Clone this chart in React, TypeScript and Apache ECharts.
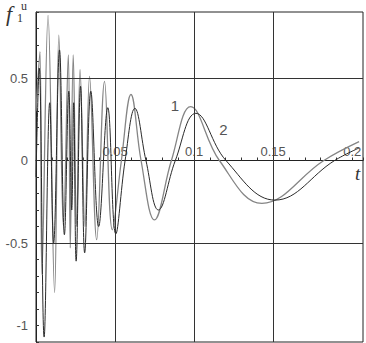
import React, { useEffect, useRef } from "react";
import * as echarts from "echarts";

// Curve 1 (leading curve, grey)
const curve1T = [0, 0.00248, 0.00372, 0.00762, 0.01176, 0.01443, 0.01734, 0.02043, 0.02167, 0.02353, 0.0257, 0.02786, 0.03096, 0.03387, 0.03839, 0.04334, 0.0483, 0.054, 0.06006, 0.06644, 0.07492, 0.08563, 0.09783, 0.11598, 0.14285, 0.18204, 0.20433];
const curve1V = [0.3, 0.66, -0.69, 0.88, -0.8, 0.76, -0.4, 0.64, -0.53, 0.64, -0.4, 0.55, -0.4, 0.51, -0.48, 0.48, -0.42, 0, 0.4, 0, -0.36, 0, 0.326, 0, -0.26, 0, 0.114];

// Curve 2 (lagging curve, black)
const curve2T = [0, 0.00204, 0.00514, 0.00867, 0.01115, 0.01486, 0.01796, 0.02074, 0.0226, 0.02384, 0.02539, 0.02817, 0.03077, 0.03467, 0.03963, 0.04539, 0.05046, 0.05635, 0.06254, 0.06954, 0.0774, 0.08811, 0.10111, 0.12012, 0.15108, 0.18885, 0.20433];
const curve2V = [-0.1, 0.56, -1.07, 0.35, -0.5, 0.67, -0.45, 0.42, -0.3, 0.35, -0.61, 0.45, -0.56, 0.42, -0.4, 0.32, -0.445, 0, 0.316, 0, -0.3, 0, 0.286, 0, -0.24, 0, 0.076];

const xGridLines = [0.05, 0.1, 0.15];
const yGridLines = [0.5, -0.5];
const curveLabels = [
  { name: "1", t: 0.0879, v: 0.336 },
  { name: "2", t: 0.1186, v: 0.185 },
];

const Y_MIN = -1.1;
const Y_MAX = 0.9;
const GRID_TOP = 12;
const GRID_BOTTOM = 1;
const HEIGHT = 343;

export default function App() {
  const ref = useRef<HTMLDivElement>(null);
  useEffect(() => {
    document.body.style.margin = "0";
    const chart = echarts.init(ref.current!, undefined, { renderer: "svg" });
    const d1 = curve1T.map((t, i) => [t, curve1V[i]]);
    const d2 = curve2T.map((t, i) => [t, curve2V[i]]);
    const labelFont = "'Liberation Sans', Arial, sans-serif";
    const plotH = HEIGHT - GRID_TOP - GRID_BOTTOM;
    // move the x axis up to the y = 0 level
    const zeroOffset = -(plotH * (0 - Y_MIN)) / (Y_MAX - Y_MIN);
    chart.setOption({
      animation: false,
      backgroundColor: "#fff",
      grid: {
        left: 36,
        right: -4,
        top: GRID_TOP,
        bottom: GRID_BOTTOM,
        show: true,
        borderColor: "#222",
        borderWidth: 1,
      },
      xAxis: {
        type: "value",
        min: 0,
        max: 0.2068,
        interval: 0.01,
        offset: zeroOffset,
        axisLine: { onZero: false, lineStyle: { color: "#222", width: 1 } },
        axisTick: { show: true, inside: true, length: 3, lineStyle: { color: "#333" } },
        splitLine: { show: false },
        axisLabel: {
          inside: true,
          interval: 0,
          margin: 3,
          color: "#555",
          fontSize: 13,
          fontFamily: labelFont,
          formatter: (v: number) => {
            const k = Math.round(v / 0.05);
            if (k > 0 && Math.abs(v - k * 0.05) < 1e-6) return String(+(k * 0.05).toFixed(2));
            return "";
          },
        },
      },
      yAxis: {
        type: "value",
        min: Y_MIN,
        max: Y_MAX,
        interval: 0.1,
        axisLine: { show: true, onZero: false, lineStyle: { color: "#222", width: 1 } },
        axisTick: { show: true, inside: true, length: 3, lineStyle: { color: "#333" } },
        splitLine: { show: false },
        axisLabel: {
          interval: 0,
          margin: 8,
          color: "#555",
          fontSize: 13,
          fontFamily: labelFont,
          formatter: (v: number) => {
            const k = Math.round(v * 2);
            if (Math.abs(v - k / 2) < 1e-6) return String(k / 2);
            return "";
          },
        },
      },
      graphic: [
        {
          type: "text",
          x: 6,
          y: 2,
          style: { text: "f", font: "italic 22px 'Liberation Serif', 'DejaVu Serif', serif", fill: "#333" },
        },
        {
          type: "text",
          x: 17,
          y: 12,
          style: { text: "1", font: "12px 'Liberation Serif', serif", fill: "#333" },
        },
        {
          type: "text",
          x: 21,
          y: 0,
          style: { text: "u", font: "12px 'Liberation Serif', serif", fill: "#333" },
        },
        {
          type: "text",
          x: 355,
          y: 164,
          style: { text: "t", font: "italic 19px 'Liberation Serif', 'DejaVu Serif', serif", fill: "#333" },
        },
      ],
      series: [
        {
          type: "line",
          data: d1,
          smooth: 0.4,
          showSymbol: false,
          symbol: "none",
          lineStyle: { color: "#858585", width: 1.3 },
          z: 3,
          markLine: {
            silent: true,
            symbol: "none",
            label: { show: false },
            lineStyle: { color: "#333", width: 1, type: "solid" },
            data: [
              ...xGridLines.map((x) => ({ xAxis: x })),
              ...yGridLines.map((y) => ({ yAxis: y })),
            ],
          },
          markPoint: {
            symbol: "circle",
            symbolSize: 0,
            label: { show: true, color: "#555", fontSize: 15, fontFamily: labelFont, formatter: "{b}" },
            data: curveLabels.map((l) => ({ name: l.name, coord: [l.t, l.v] })),
          },
        },
        {
          type: "line",
          data: d2,
          smooth: 0.4,
          showSymbol: false,
          symbol: "none",
          lineStyle: { color: "#2a2a2a", width: 1 },
          z: 4,
        },
      ],
    });
    return () => chart.dispose();
  }, []);
  return <div ref={ref} style={{ width: 366, height: 343 }} />;
}
